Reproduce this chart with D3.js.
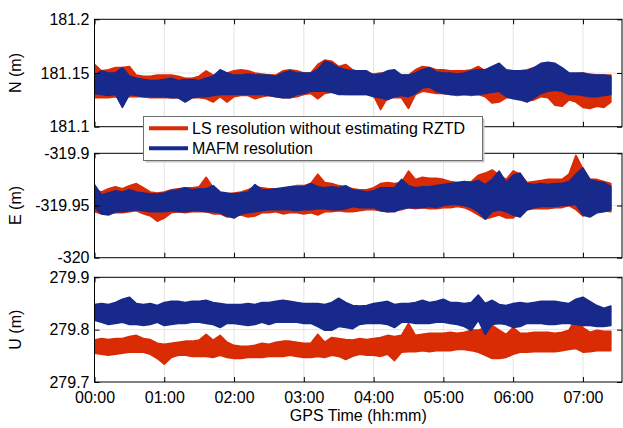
<!doctype html>
<html>
<head>
<meta charset="utf-8">
<title></title>
<script src="https://cdn.jsdelivr.net/npm/d3@7"></script>
<style type="text/css">
	body { margin: 0; background: #fff; }
	#main svg { display: block; font-family: "Liberation Sans", Arial, Helvetica, sans-serif; }
</style>
</head>
<body>
<div id="main"></div>
<script type="text/javascript">
'use strict'
// sampling: one envelope reading every 6 minutes, from 00:00 to 07:24
var sampleHours = 0.1;

var hourTicks = [0, 1, 2, 3, 4, 5, 6, 7];
var nTicks = [181.1, 181.15, 181.2];
var eTicks = [-320, -319.95, -319.9];
var uTicks = [279.7, 279.8, 279.9];
var seriesNames = ['LS resolution without estimating RZTD', 'MAFM resolution'];

// N (m) -- upper / lower envelope of each solution
var nRedHi = [181.158, 181.152, 181.153, 181.155, 181.155, 181.156, 181.148, 181.147, 181.147, 181.148,
	181.148, 181.148, 181.147, 181.145, 181.145, 181.147, 181.152, 181.148, 181.150, 181.150,
	181.152, 181.153, 181.152, 181.150, 181.149, 181.148, 181.148, 181.152, 181.153, 181.152,
	181.150, 181.150, 181.158, 181.162, 181.161, 181.156, 181.158, 181.153,
	181.151, 181.150, 181.149, 181.150, 181.149, 181.148, 181.148, 181.148, 181.153, 181.156, 181.155, 181.153,
	181.153, 181.152, 181.152, 181.152, 181.153, 181.156, 181.152, 181.153, 181.155, 181.152,
	181.151, 181.152, 181.153, 181.155, 181.155, 181.156, 181.155, 181.150, 181.149, 181.149,
	181.150, 181.149, 181.148, 181.148, 181.148];
var nRedLo = [181.127, 181.127, 181.127, 181.128, 181.127, 181.128, 181.128, 181.128, 181.127, 181.127,
	181.127, 181.127, 181.127, 181.126, 181.127, 181.127, 181.126, 181.123, 181.128, 181.123,
	181.128, 181.129, 181.129, 181.126, 181.128, 181.129, 181.128, 181.127, 181.127, 181.128,
	181.130, 181.131, 181.126, 181.131, 181.132, 181.131, 181.130, 181.130,
	181.130, 181.130, 181.129, 181.116, 181.127, 181.127, 181.127, 181.117, 181.130, 181.133, 181.132, 181.131,
	181.131, 181.130, 181.129, 181.130, 181.129, 181.130, 181.128, 181.122, 181.123, 181.127,
	181.127, 181.127, 181.124, 181.125, 181.128, 181.127, 181.120, 181.119, 181.125, 181.123,
	181.118, 181.117, 181.119, 181.118, 181.123];
var nBlueHi = [181.148, 181.152, 181.150, 181.150, 181.155, 181.147, 181.145, 181.144, 181.143, 181.143,
	181.144, 181.145, 181.143, 181.144, 181.144, 181.143, 181.145, 181.147, 181.153, 181.150,
	181.148, 181.148, 181.149, 181.148, 181.148, 181.148, 181.147, 181.150, 181.152, 181.150,
	181.150, 181.150, 181.153, 181.161, 181.159, 181.155, 181.153, 181.152,
	181.152, 181.152, 181.148, 181.149, 181.152, 181.153, 181.148, 181.148, 181.150, 181.153, 181.155, 181.151,
	181.150, 181.150, 181.149, 181.150, 181.152, 181.153, 181.153, 181.156, 181.159, 181.153,
	181.152, 181.152, 181.152, 181.155, 181.159, 181.160, 181.159, 181.155, 181.150, 181.150,
	181.150, 181.148, 181.148, 181.148, 181.147];
var nBlueLo = [181.131, 181.130, 181.129, 181.130, 181.118, 181.130, 181.129, 181.128, 181.128, 181.128,
	181.128, 181.127, 181.127, 181.123, 181.127, 181.128, 181.128, 181.129, 181.130, 181.130,
	181.130, 181.130, 181.130, 181.130, 181.130, 181.129, 181.128, 181.127, 181.127, 181.130,
	181.131, 181.133, 181.133, 181.133, 181.132, 181.130, 181.130, 181.130,
	181.130, 181.130, 181.128, 181.127, 181.125, 181.128, 181.129, 181.128, 181.131, 181.136, 181.137, 181.133,
	181.131, 181.130, 181.130, 181.130, 181.130, 181.130, 181.131, 181.132, 181.133, 181.128,
	181.126, 181.125, 181.123, 181.127, 181.131, 181.133, 181.134, 181.133, 181.130, 181.130,
	181.129, 181.128, 181.128, 181.129, 181.130];

// E (m)
var eRedHi = [-319.935, -319.937, -319.934, -319.932, -319.934, -319.931, -319.929, -319.933, -319.937, -319.938,
	-319.937, -319.935, -319.934, -319.933, -319.933, -319.932, -319.923, -319.933, -319.938, -319.939,
	-319.938, -319.937, -319.935, -319.932, -319.933, -319.934, -319.934, -319.935, -319.932, -319.931,
	-319.931, -319.929, -319.920, -319.928, -319.929, -319.931, -319.932, -319.934,
	-319.935, -319.935, -319.933, -319.929, -319.928, -319.929, -319.928, -319.917, -319.925, -319.923, -319.924, -319.924,
	-319.925, -319.927, -319.928, -319.928, -319.927, -319.921, -319.919, -319.916, -319.921, -319.925,
	-319.917, -319.920, -319.928, -319.927, -319.926, -319.925, -319.925, -319.925, -319.920, -319.902,
	-319.915, -319.925, -319.925, -319.927, -319.929];
var eRedLo = [-319.956, -319.958, -319.958, -319.957, -319.957, -319.956, -319.955, -319.958, -319.960, -319.965,
	-319.962, -319.957, -319.956, -319.957, -319.956, -319.956, -319.956, -319.958, -319.958, -319.961,
	-319.960, -319.959, -319.961, -319.960, -319.957, -319.957, -319.956, -319.958, -319.957, -319.957,
	-319.958, -319.957, -319.959, -319.956, -319.956, -319.955, -319.956, -319.956,
	-319.955, -319.954, -319.954, -319.955, -319.956, -319.955, -319.954, -319.952, -319.953, -319.952, -319.953, -319.953,
	-319.952, -319.952, -319.951, -319.952, -319.955, -319.959, -319.963, -319.961, -319.959, -319.962,
	-319.962, -319.956, -319.954, -319.953, -319.953, -319.953, -319.952, -319.952, -319.950, -319.954,
	-319.960, -319.958, -319.956, -319.955, -319.956];
var eBlueHi = [-319.930, -319.940, -319.938, -319.936, -319.937, -319.935, -319.937, -319.938, -319.939, -319.939,
	-319.938, -319.936, -319.935, -319.933, -319.935, -319.934, -319.934, -319.931, -319.937, -319.938,
	-319.939, -319.938, -319.937, -319.930, -319.935, -319.935, -319.934, -319.933, -319.932, -319.932,
	-319.932, -319.929, -319.932, -319.933, -319.932, -319.933, -319.931, -319.935,
	-319.936, -319.937, -319.936, -319.933, -319.933, -319.933, -319.925, -319.931, -319.933, -319.932, -319.932, -319.931,
	-319.930, -319.929, -319.928, -319.927, -319.928, -319.926, -319.930, -319.925, -319.917, -319.928,
	-319.921, -319.919, -319.929, -319.930, -319.929, -319.930, -319.929, -319.929, -319.927, -319.920,
	-319.914, -319.925, -319.927, -319.928, -319.932];
var eBlueLo = [-319.952, -319.958, -319.959, -319.956, -319.956, -319.955, -319.954, -319.955, -319.956, -319.956,
	-319.956, -319.955, -319.956, -319.956, -319.955, -319.955, -319.956, -319.956, -319.957, -319.960,
	-319.962, -319.958, -319.957, -319.956, -319.955, -319.954, -319.954, -319.954, -319.954, -319.955,
	-319.954, -319.954, -319.953, -319.953, -319.954, -319.954, -319.953, -319.951,
	-319.952, -319.952, -319.952, -319.955, -319.956, -319.956, -319.953, -319.952, -319.952, -319.952, -319.951, -319.952,
	-319.950, -319.949, -319.949, -319.950, -319.952, -319.956, -319.963, -319.956, -319.954, -319.956,
	-319.959, -319.961, -319.954, -319.952, -319.951, -319.951, -319.951, -319.950, -319.950, -319.949,
	-319.959, -319.961, -319.957, -319.956, -319.954];

// U (m)
var uRedHi = [279.780, 279.783, 279.781, 279.783, 279.783, 279.787, 279.789, 279.783, 279.781, 279.774,
	279.772, 279.774, 279.776, 279.778, 279.778, 279.780, 279.791, 279.780, 279.789, 279.776,
	279.770, 279.768, 279.768, 279.770, 279.774, 279.772, 279.776, 279.778, 279.778, 279.776,
	279.774, 279.774, 279.791, 279.776, 279.785, 279.783, 279.781, 279.780,
	279.783, 279.781, 279.783, 279.785, 279.789, 279.787, 279.789, 279.812, 279.789, 279.791, 279.793, 279.793,
	279.793, 279.795, 279.793, 279.795, 279.799, 279.799, 279.804, 279.808, 279.799, 279.791,
	279.804, 279.793, 279.793, 279.795, 279.795, 279.795, 279.793, 279.795, 279.799, 279.822,
	279.804, 279.795, 279.799, 279.797, 279.797];
var uRedLo = [279.755, 279.753, 279.751, 279.753, 279.755, 279.757, 279.757, 279.757, 279.753, 279.745,
	279.734, 279.747, 279.751, 279.751, 279.749, 279.749, 279.749, 279.747, 279.751, 279.747,
	279.745, 279.745, 279.747, 279.747, 279.747, 279.749, 279.749, 279.749, 279.751, 279.749,
	279.747, 279.747, 279.749, 279.747, 279.751, 279.749, 279.743, 279.749,
	279.753, 279.751, 279.751, 279.749, 279.753, 279.741, 279.757, 279.758, 279.758, 279.760, 279.758, 279.760,
	279.760, 279.760, 279.762, 279.762, 279.760, 279.757, 279.751, 279.745, 279.745, 279.747,
	279.753, 279.757, 279.757, 279.758, 279.758, 279.758, 279.758, 279.760, 279.762, 279.764,
	279.757, 279.758, 279.760, 279.760, 279.760];
var uBlueHi = [279.848, 279.850, 279.848, 279.852, 279.858, 279.862, 279.850, 279.848, 279.850, 279.846,
	279.852, 279.854, 279.854, 279.852, 279.854, 279.854, 279.856, 279.852, 279.850, 279.848,
	279.848, 279.848, 279.850, 279.848, 279.852, 279.852, 279.854, 279.856, 279.854, 279.852,
	279.850, 279.850, 279.850, 279.848, 279.852, 279.860, 279.852, 279.846,
	279.845, 279.846, 279.850, 279.852, 279.854, 279.848, 279.850, 279.850, 279.852, 279.856, 279.852, 279.854,
	279.858, 279.852, 279.852, 279.850, 279.852, 279.866, 279.850, 279.856, 279.848, 279.846,
	279.850, 279.852, 279.850, 279.852, 279.854, 279.854, 279.854, 279.852, 279.850, 279.858,
	279.862, 279.854, 279.846, 279.841, 279.845];
var uBlueLo = [279.818, 279.814, 279.810, 279.812, 279.814, 279.810, 279.810, 279.808, 279.810, 279.814,
	279.808, 279.810, 279.812, 279.812, 279.814, 279.814, 279.812, 279.810, 279.804, 279.812,
	279.812, 279.810, 279.808, 279.810, 279.814, 279.810, 279.814, 279.814, 279.814, 279.814,
	279.812, 279.812, 279.806, 279.799, 279.799, 279.806, 279.804, 279.802,
	279.810, 279.812, 279.812, 279.812, 279.810, 279.804, 279.814, 279.814, 279.812, 279.812, 279.812, 279.814,
	279.814, 279.812, 279.810, 279.806, 279.799, 279.818, 279.791, 279.810, 279.812, 279.810,
	279.804, 279.806, 279.812, 279.812, 279.812, 279.810, 279.810, 279.812, 279.812, 279.810,
	279.808, 279.808, 279.806, 279.806, 279.808];

var redColor = '#d92b04';
var blueColor = '#172a8b';
var gridColor = '#e3e3e3';

var width = 623, height = 428;
var plotLeft = 94.5, plotRight = 622;

var panels = [
	{ label: 'N (m)', top: 19.3, bottom: 126.7, domain: [181.1, 181.2], ticks: nTicks,
		red: [nRedHi, nRedLo], blue: [nBlueHi, nBlueLo], xLabels: false },
	{ label: 'E (m)', top: 153.3, bottom: 257.7, domain: [-320, -319.9], ticks: eTicks,
		red: [eRedHi, eRedLo], blue: [eBlueHi, eBlueLo], xLabels: false },
	{ label: 'U (m)', top: 277.3, bottom: 382, domain: [279.7, 279.9], ticks: uTicks,
		red: [uRedHi, uRedLo], blue: [uBlueHi, uBlueLo], xLabels: true }
];

var svg = d3.select('#main').append('svg')
	.attr('width', width)
	.attr('height', height);

var x = d3.scaleLinear().domain([0, 7.56]).range([plotLeft, plotRight]);

function hourLabel(d) {
	return (d < 10 ? '0' : '') + d + ':00';
}

panels.forEach(function(p, pi) {
	var y = d3.scaleLinear().domain(p.domain).range([p.bottom, p.top]);
	var g = svg.append('g').attr('class', 'panel');

	// grid
	g.selectAll('line.vgrid').data(hourTicks.slice(1))
		.enter().append('line')
		.attr('x1', function(d) { return x(d); })
		.attr('x2', function(d) { return x(d); })
		.attr('y1', p.top).attr('y2', p.bottom)
		.style('stroke', gridColor).style('stroke-width', 1);
	g.selectAll('line.hgrid').data(p.ticks.slice(1, 2))
		.enter().append('line')
		.attr('x1', plotLeft).attr('x2', plotRight)
		.attr('y1', function(d) { return y(d); })
		.attr('y2', function(d) { return y(d); })
		.style('stroke', gridColor).style('stroke-width', 1);

	// clip
	g.append('clipPath').attr('id', 'clip' + pi)
		.append('rect')
		.attr('x', plotLeft).attr('y', p.top)
		.attr('width', plotRight - plotLeft).attr('height', p.bottom - p.top);

	// series bands: red first, blue on top
	[[p.red, redColor], [p.blue, blueColor]].forEach(function(s) {
		var hi = s[0][0], lo = s[0][1];
		var area = d3.area()
			.x(function(d, i) { return x(i * sampleHours); })
			.y0(function(d, i) { return y(lo[i]); })
			.y1(function(d) { return y(d); });
		g.append('path')
			.datum(hi)
			.attr('clip-path', 'url(#clip' + pi + ')')
			.attr('d', area)
			.style('fill', s[1])
			.style('stroke', s[1])
			.style('stroke-width', 1.6)
			.style('stroke-linejoin', 'round');
	});

	// axes, ticks point inwards
	var fs = '16px';
	var left = g.append('g').attr('transform', 'translate(' + plotLeft + ',0)')
		.call(d3.axisLeft(y).tickValues(p.ticks).tickSize(-5).tickSizeOuter(0).tickPadding(5)
			.tickFormat(function(d) { return String(d); }));
	var right = g.append('g').attr('transform', 'translate(' + plotRight + ',0)')
		.call(d3.axisRight(y).tickValues(p.ticks).tickSize(-5).tickSizeOuter(0).tickFormat(''));
	var top = g.append('g').attr('transform', 'translate(0,' + p.top + ')')
		.call(d3.axisTop(x).tickValues(hourTicks).tickSize(-5).tickSizeOuter(0).tickFormat(''));
	var bottom = g.append('g').attr('transform', 'translate(0,' + p.bottom + ')')
		.call(d3.axisBottom(x).tickValues(hourTicks).tickSize(-5).tickSizeOuter(0).tickPadding(10)
			.tickFormat(p.xLabels ? hourLabel : ''));
	[left, right, top, bottom].forEach(function(a) {
		a.select('.domain').remove();
		a.selectAll('line').style('stroke', '#000');
		a.selectAll('text')
			.style('font-size', fs)
			.style('font-family', '"Liberation Sans", Arial, sans-serif')
			.style('fill', '#000');
	});

	// box
	g.append('rect')
		.attr('x', plotLeft).attr('y', p.top)
		.attr('width', plotRight - plotLeft).attr('height', p.bottom - p.top)
		.style('fill', 'none').style('stroke', '#000').style('stroke-width', 1);

	// y label
	g.append('text')
		.attr('transform', 'translate(21,' + ((p.top + p.bottom) / 2) + ') rotate(-90)')
		.attr('text-anchor', 'middle')
		.style('font-size', '16px')
		.text(p.label);
});

// x label
svg.append('text')
	.attr('x', (plotLeft + plotRight) / 2)
	.attr('y', 421)
	.attr('text-anchor', 'middle')
	.style('font-size', '16px')
	.text('GPS Time (hh:mm)');

// legend
var legend = svg.append('g').attr('class', 'legend');
legend.append('rect')
	.attr('x', 145.5).attr('y', 118.5).attr('width', 339).attr('height', 44)
	.style('fill', '#c8c8c8');
legend.append('rect')
	.attr('x', 143.5).attr('y', 116.5).attr('width', 339).attr('height', 44)
	.style('fill', '#fff').style('stroke', '#6e6e6e').style('stroke-width', 1);
[redColor, blueColor].forEach(function(c, i) {
	var ly = 128.3 + i * 20;
	legend.append('line')
		.attr('x1', 149).attr('x2', 188)
		.attr('y1', ly).attr('y2', ly)
		.style('stroke', c).style('stroke-width', 4);
	legend.append('text')
		.attr('x', 192).attr('y', ly)
		.attr('dy', '0.35em')
		.style('font-size', '16px')
		.text(seriesNames[i]);
});
</script>
</body>
</html>
